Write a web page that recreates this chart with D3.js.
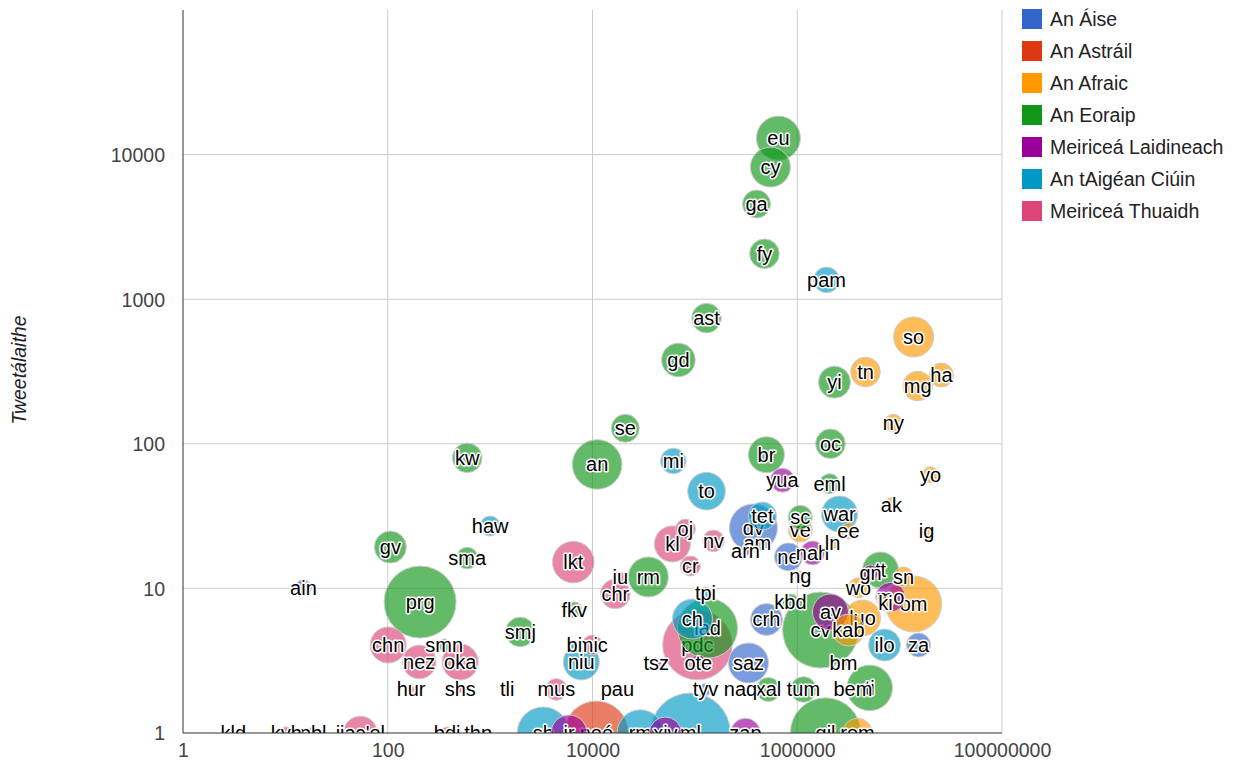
<!DOCTYPE html>
<html><head><meta charset="utf-8">
<script src="https://cdn.jsdelivr.net/npm/d3@7"></script>
<style>body{margin:0;background:#fff;} svg{font-family:Arial,"Liberation Sans",sans-serif;}</style>
</head><body><svg id="c" width="1237" height="764"></svg>
<script>
const regionNames = ["An Áise","An Astráil","An Afraic","An Eoraip","Meiriceá Laidineach","An tAigéan Ciúin","Meiriceá Thuaidh"];
const regionColors = ["#3366cc","#dc3912","#ff9900","#109618","#990099","#0099c6","#dd4477"];
const xTicks = [1,100,10000,1000000,100000000];
const yTicks = [1,10,100,1000,10000];
const yTitle = "Tweetálaithe";

// [code, speakers, tweeters, size]
const asia = [
  ["ain",15,10.1,20],["dv",373000,26.2,60],["ne",820000,16.5,35],["crh",500000,6.1,40],
  ["saz",334000,3.05,50],["za",15300000,4.06,30],["tyv",127000,2.0,15]
];
const australia = [
  ["bdi",380,1,15],["noé",10900,1,80]
];
const africa = [
  ["so",13700000,548,50],["tn",4640000,314,37],["mg",15000000,251,37],["ha",25600000,299,30],
  ["ny",8700000,139,22],["yo",20000000,61,20],["ak",8300000,38,17],["ig",18300000,25,10],
  ["ve",1070000,25.3,30],["ee",3160000,25,20],["ln",2210000,20.6,15],["am",408000,20.6,12],
  ["ng",1070000,12.2,12],["sn",10900000,12,25],["wo",3960000,10.1,25],["ki",7280000,7.9,17],
  ["om",13700000,7.8,70],["luo",4340000,6.24,45],["kab",3160000,5.15,40],["bm",2830000,3.05,10],
  ["bem",3500000,2.0,10],["naq",279000,2.0,10],["rom",3880000,1,37]
];
const europe = [
  ["eu",655000,13000,55],["cy",547000,8200,50],["ga",400000,4550,35],["fy",478000,2060,37],
  ["ast",130000,740,37],["gd",69000,380,42],["se",20900,128,35],["an",11100,72,62],
  ["kw",597,80,37],["gv",106,19.3,40],["sma",597,16.2,27],["prg",207,8.05,90],
  ["smj",1970,5.0,37],["rm",35100,12,50],["fkv",6640,7.1,20],["br",500000,84,45],
  ["yi",2310000,267,40],["oc",2110000,100,37],["eml",2070000,53,25],["sc",1070000,31,30],
  ["cv",1690000,5.15,95],["tum",1150000,2.0,32],["ti",5100000,2.05,57],["tt",6500000,13.4,45],
  ["xal",523000,2.0,30],["smn",356,4.06,15],["kbd",859000,8.05,20],["lad",133000,5.3,75],
  ["gil",1890000,1,88]
];
const latinAmerica = [
  ["yua",716000,56,30],["nah",1410000,17.6,30],["arn",312000,18.2,12],["gn",5200000,12.8,20],
  ["mo",8150000,8.7,37],["av",2110000,6.87,45],["ote",108000,3.05,20],["tsz",42000,3.05,12],
  ["ir",5900,1,45],["xiv",51500,1,40],["zap",312000,1,37],["pbl",18.7,1,15]
];
const pacific = [
  ["pam",1930000,1360,32],["mi",61600,76,32],["to",130000,47,47],["haw",1000,27,25],
  ["tet",457000,31.7,35],["war",2590000,32.7,45],["tpi",127000,9.3,15],["ilo",7120000,4.06,40],
  ["niu",7780,3.1,45],["bi",6640,4.06,10],["pau",17500,2.0,8],["sh",3300,1,65],
  ["ml",90400,1,100],["rm",29300,1,58],["ch",94600,6.14,50]
];
const northAmerica = [
  ["lkt",6490,15.2,52],["kl",60300,20.3,45],["oj",80800,25.7,25],["nv",152000,21.3,27],
  ["cr",90400,14.3,25],["chr",16700,9.15,37],["iu",18700,12,12],["mic",9950,4.06,25],
  ["mus",4430,2.0,27],["tli",1470,2.0,10],["chn",101,4.06,45],["nez",203,3.1,42],
  ["oka",510,3.1,45],["hur",169,2.0,8],["shs",510,2.0,8],["pdc",106000,4.06,87],
  ["jiaɔ'el",54,1,42],["kyh",10.2,1,15],["kld",3.1,1,8],["thp",765,1,10]
];

const groups = [asia, australia, africa, europe, latinAmerica, pacific, northAmerica];
const data = [];
groups.forEach((arr, gi) => arr.forEach(d => data.push({code:d[0], x:d[1], y:d[2], s:d[3], g:gi})));
data.sort((a,b) => b.s - a.s);

const svg = d3.select("#c");
const L = 183, R = 1002, T = 10, B = 733;
const x = d3.scaleLog().domain([1,1e8]).range([L,R]);
const y = d3.scaleLog().domain([1,1e5]).range([B,T]);
const r = d3.scaleLinear().domain([0,100]).range([0,40]);
const color = d3.scaleOrdinal().domain(d3.range(7)).range(regionColors);
const FS = 19.5;
const FONT = "Arial,'Liberation Sans',sans-serif";

// gridlines
svg.append("g").selectAll("line").data(xTicks.slice(1)).join("line")
  .attr("x1", d=>x(d)).attr("x2", d=>x(d)).attr("y1", T).attr("y2", B)
  .attr("stroke","#cccccc").attr("stroke-width",1);
svg.append("g").selectAll("line").data(yTicks.slice(1)).join("line")
  .attr("x1", L).attr("x2", R).attr("y1", d=>y(d)).attr("y2", d=>y(d))
  .attr("stroke","#cccccc").attr("stroke-width",1);

// axes labels via d3 axes
const xAxis = d3.axisBottom(x).tickValues(xTicks).tickFormat(d3.format("d")).tickSize(0).tickPadding(0);
const gx = svg.append("g").attr("transform",`translate(0,${B+24})`).call(xAxis);
gx.select(".domain").remove();
gx.selectAll("text").attr("font-size",FS).attr("fill","#444").attr("font-family",FONT).attr("dy","0");
const yAxis = d3.axisLeft(y).tickValues(yTicks).tickFormat(d3.format("d")).tickSize(0).tickPadding(0);
const gy = svg.append("g").attr("transform",`translate(${L-18},0)`).call(yAxis);
gy.select(".domain").remove();
gy.selectAll("text").attr("font-size",FS).attr("fill","#444").attr("font-family",FONT).attr("dy","0.35em");

svg.append("text").attr("transform","translate(26,370) rotate(-90)")
  .attr("text-anchor","middle").attr("font-size",FS).attr("font-style","italic").attr("fill","#222").text(yTitle);

// clip
svg.append("clipPath").attr("id","clip").append("rect").attr("x",L).attr("y",T).attr("width",R-L).attr("height",B-T);

const plot = svg.append("g").attr("clip-path","url(#clip)");
const bub = plot.selectAll("g").data(data).join("g")
  .attr("transform", d=>`translate(${x(d.x)},${y(d.y)})`);
bub.append("circle").attr("r", d=>r(d.s)).attr("fill", d=>color(d.g)).attr("fill-opacity",0.65)
  .attr("stroke","#cccccc").attr("stroke-width",1);
bub.append("text").attr("text-anchor","middle").attr("dy","0.35em").attr("font-size",20)
  .attr("fill","#000").attr("stroke","#fff").attr("stroke-width",3).attr("stroke-linejoin","round")
  .attr("paint-order","stroke").text(d=>d.code);

// axis lines
svg.append("line").attr("x1",L).attr("x2",L).attr("y1",T).attr("y2",B).attr("stroke","#333").attr("stroke-width",1);
svg.append("line").attr("x1",L).attr("x2",R).attr("y1",B).attr("y2",B).attr("stroke","#333").attr("stroke-width",1);

// legend
const lg = svg.append("g").selectAll("g").data(regionNames).join("g")
  .attr("transform",(d,i)=>`translate(1022,${19 + i*32})`);
lg.append("rect").attr("x",0).attr("y",-10).attr("width",20).attr("height",20).attr("fill",(d,i)=>regionColors[i]);
lg.append("text").attr("x",28).attr("dy","0.35em").attr("font-size",FS).attr("fill","#222").text(d=>d);
</script></body></html>
